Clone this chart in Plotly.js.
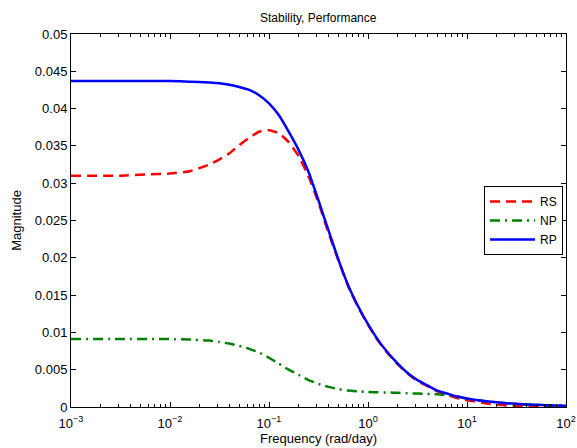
<!DOCTYPE html>
<html>
<head>
<meta charset="utf-8">
<script src="https://cdn.plot.ly/plotly-3.0.1.min.js"></script>
<style>html,body{margin:0;padding:0;background:#fff;}#chart{width:577px;height:448px;}</style>
</head>
<body>
<div id="chart"></div>
<script>
// Frequency (rad/day)
const freq = [0.001, 0.00316, 0.00631, 0.01, 0.0158, 0.0251, 0.0316, 0.0398, 0.0501, 0.0631, 0.0794, 0.1, 0.126, 0.158, 0.2, 0.251, 0.316, 0.398, 0.501, 0.631, 0.794, 1, 1.26, 1.58, 2.0, 2.51, 3.16, 3.98, 5.01, 6.31, 7.94, 10, 15.8, 25.1, 39.8, 63.1, 100];
const rs = [0.0310, 0.0310, 0.0312, 0.0313, 0.0316, 0.0325, 0.0332, 0.0340, 0.0351, 0.0361, 0.0369, 0.0371, 0.0367, 0.0355, 0.0336, 0.0309, 0.0274, 0.0234, 0.0197, 0.0162, 0.0134, 0.0110, 0.0089, 0.0072, 0.0057, 0.0045, 0.0035, 0.0028, 0.0021, 0.0016, 0.0012, 0.00090, 0.00048, 0.00020, 0.00005, 0.00001, 0.00001];
const np = [0.00912, 0.00912, 0.0091, 0.0091, 0.00905, 0.0089, 0.0087, 0.0085, 0.0082, 0.0078, 0.0073, 0.0066, 0.0058, 0.0050, 0.0043, 0.0036, 0.0031, 0.0027, 0.0024, 0.0022, 0.0021, 0.0020, 0.00198, 0.00194, 0.0019, 0.00185, 0.0018, 0.00175, 0.0017, 0.0016, 0.0014, 0.0011, 0.00075, 0.00049, 0.00034, 0.00024, 0.00015];
const rp = [0.0437, 0.0437, 0.0437, 0.0437, 0.0436, 0.0435, 0.0434, 0.0432, 0.0429, 0.0425, 0.0418, 0.0407, 0.0391, 0.0369, 0.0344, 0.0315, 0.0277, 0.0237, 0.0198, 0.0163, 0.0135, 0.0111, 0.0090, 0.0073, 0.0058, 0.00455, 0.0036, 0.0029, 0.0022, 0.0018, 0.0014, 0.00115, 0.00076, 0.00050, 0.00035, 0.00025, 0.00016];
const xTicks = [0.001, 0.01, 0.1, 1, 10, 100];
const xTickText = ['10<sup>−3</sup>', '10<sup>−2</sup>', '10<sup>−1</sup>', '10<sup>0</sup>', '10<sup>1</sup>', '10<sup>2</sup>'];
const yTicks = [0, 0.005, 0.01, 0.015, 0.02, 0.025, 0.03, 0.035, 0.04, 0.045, 0.05];
const yTickText = ['0', '0.005', '0.01', '0.015', '0.02', '0.025', '0.03', '0.035', '0.04', '0.045', '0.05'];

const font = {family: 'Liberation Sans, Arial, Helvetica, sans-serif', size: 13, color: '#000'};

const traces = [
  {x: freq, y: rs, name: 'RS', mode: 'lines', line: {color: '#ff0000', width: 2.5, dash: '10px,6px', shape: 'spline', smoothing: 0.4}},
  {x: freq, y: np, name: 'NP', mode: 'lines', line: {color: '#008000', width: 2.5, dash: '10px,5px,2px,5px', shape: 'spline', smoothing: 0.4}},
  {x: freq, y: rp, name: 'RP', mode: 'lines', line: {color: '#0000ff', width: 2.5, shape: 'spline', smoothing: 0.4}}
];

const axisCommon = {
  showline: true, linecolor: '#000', linewidth: 1, mirror: 'ticks',
  ticks: 'inside', ticklen: 5, tickcolor: '#000', tickwidth: 1,
  showgrid: false, zeroline: false, tickfont: font
};

const layout = {
  width: 577, height: 448,
  margin: {l: 71, r: 11, t: 34, b: 41},
  paper_bgcolor: '#fff', plot_bgcolor: '#fff',
  font: font,
  title: {text: 'Stability, Performance', font: {family: font.family, size: 12, color: '#000'}, x: 0.5515, xanchor: 'center', y: 0.96, yanchor: 'middle'},
  xaxis: Object.assign({}, axisCommon, {
    type: 'log', range: [-3, 2], tickvals: xTicks, ticktext: xTickText, ticklabelstandoff: 4,
    minor: {ticks: 'inside', ticklen: 3, tickcolor: '#000', dtick: 'D1'},
    title: {text: 'Frequency (rad/day)', font: {family: font.family, size: 13, color: '#000'}, standoff: 4}
  }),
  yaxis: Object.assign({}, axisCommon, {
    range: [0, 0.05], tickvals: yTicks, ticktext: yTickText,
    title: {text: 'Magnitude', font: {family: font.family, size: 13, color: '#000'}, standoff: 10}
  }),
  legend: {x: 0.994, xanchor: 'right', y: 0.5, yanchor: 'middle', bgcolor: '#fff', bordercolor: '#000', borderwidth: 1, font: {family: font.family, size: 12, color: '#000'}, tracegroupgap: 0, itemwidth: 45},
  showlegend: true
};

Plotly.newPlot('chart', traces, layout, {displayModeBar: false, staticPlot: true});
</script>
</body>
</html>
